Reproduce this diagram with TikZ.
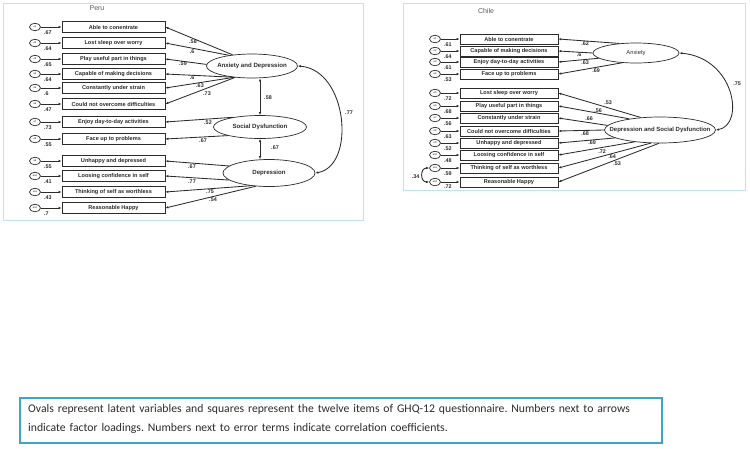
\documentclass[tikz,border=0pt]{standalone}
\usepackage{fontspec}
\setmainfont{Liberation Sans}
\newfontfamily\notefont{Carlito}
\usetikzlibrary{shapes.geometric}
\usetikzlibrary{arrows.meta}

\definecolor{framecyan}{HTML}{BFE4EC}
\definecolor{notecyan}{HTML}{3BA6C8}
\definecolor{inkgray}{HTML}{2B2B2B}

\begin{document}
\begin{tikzpicture}[x=1pt,y=-1pt,
    item/.style={draw=inkgray,line width=0.7pt,minimum height=10.5pt,inner sep=0pt,
        text=inkgray,font=\fontsize{5.6}{6}\selectfont\bfseries},
    err/.style={ellipse,draw=inkgray,line width=0.7pt,minimum width=11pt,minimum height=7.5pt,
        inner sep=0pt,font=\fontsize{2.5}{3}\selectfont},
    latent/.style={ellipse,draw=inkgray,line width=0.7pt,inner xsep=-16pt,inner ysep=0pt,
        text=inkgray,font=\fontsize{6.1}{7}\selectfont\bfseries},
    load/.style={inner sep=0pt,text=inkgray,font=\fontsize{5.4}{6}\selectfont\bfseries},
    title/.style={text=black!65,font=\fontsize{7}{8}\selectfont},
    conn/.style={-{Latex[length=3pt,width=2.4pt]},line width=0.85pt,draw=inkgray},
    twohead/.style={{Latex[length=3pt,width=2.4pt]}-{Latex[length=3pt,width=2.4pt]},
        line width=0.85pt,draw=inkgray}]
    \useasboundingbox (0,0) rectangle (750,448);

    % Peru
    \draw [framecyan,line width=1pt] (3,3) rectangle (363,220);
    \node [title] (perutitle) at (97,8) {Peru};

    \begin{scope}[item/.append style={minimum width=103pt}]
    \node [item] (p1)  at (113.5,27)  {Able to conentrate};
    \node [item] (p2)  at (113.5,43)  {Lost sleep over worry};
    \node [item] (p3)  at (113.5,59)  {Play useful part in things};
    \node [item] (p4)  at (113.5,74)  {Capable of making decisions};
    \node [item] (p5)  at (113.5,88)  {Constantly under strain};
    \node [item] (p6)  at (113.5,104) {Could not overcome difficulties};
    \node [item] (p7)  at (113.5,122) {Enjoy day-to-day activities};
    \node [item] (p8)  at (113.5,139) {Face up to problems};
    \node [item] (p9)  at (113.5,161) {Unhappy and depressed};
    \node [item] (p10) at (113.5,176) {Loosing confidence in self};
    \node [item] (p11) at (113.5,192) {Thinking of self as worthless};
    \node [item] (p12) at (113.5,208) {Reasonable Happy};
    \end{scope}

    % Peru error terms
    \node [err] (pe1)  at (35,27)  {e1};
    \node [err] (pe2)  at (35,43)  {e2};
    \node [err] (pe3)  at (35,59)  {e3};
    \node [err] (pe4)  at (35,74)  {e4};
    \node [err] (pe5)  at (35,88)  {e5};
    \node [err] (pe6)  at (35,104) {e6};
    \node [err] (pe7)  at (35,122) {e7};
    \node [err] (pe8)  at (35,139) {e8};
    \node [err] (pe9)  at (35,161) {e9};
    \node [err] (pe10) at (35,176) {e10};
    \node [err] (pe11) at (35,192) {e11};
    \node [err] (pe12) at (35,208) {e12};
    \foreach \i in {1,...,12}
        \draw [conn] (pe\i) -- (p\i);

    \node [load,anchor=west] (pv1)  at (44,32.5)  {.67};
    \node [load,anchor=west] (pv2)  at (44,48.5)  {.64};
    \node [load,anchor=west] (pv3)  at (44,64.5)  {.65};
    \node [load,anchor=west] (pv4)  at (44,79.5)  {.64};
    \node [load,anchor=west] (pv5)  at (44,93.5)  {.6};
    \node [load,anchor=west] (pv6)  at (44,109.5) {.47};
    \node [load,anchor=west] (pv7)  at (44,127.5) {.73};
    \node [load,anchor=west] (pv8)  at (44,144.5) {.55};
    \node [load,anchor=west] (pv9)  at (44,166.5) {.55};
    \node [load,anchor=west] (pv10) at (44,181.5) {.41};
    \node [load,anchor=west] (pv11) at (44,197.5) {.43};
    \node [load,anchor=west] (pv12) at (44,213.5) {.7};

    % Peru factors
    \node [latent,minimum width=91pt,minimum height=24pt] (pad)  at (252,66)  {Anxiety and Depression};
    \node [latent,minimum width=93pt,minimum height=23pt] (psd)  at (260,127) {Social Dysfunction};
    \node [latent,minimum width=92pt,minimum height=27pt] (pdep) at (269,173) {Depression};

    \draw [conn] (pad.150) -- (p1.east);
    \draw [conn] (pad.155) -- (p2.east);
    \draw [conn] (pad.178) -- (p3.east);
    \draw [conn] (pad.210) -- (p4.east);
    \draw [conn] (pad.212) -- (p5.east);
    \draw [conn] (pad.214) -- (p6.east);
    \draw [conn] (psd.160) -- (p7.east);
    \draw [conn] (psd.195) -- (p8.east);
    \draw [conn] (pdep.170) -- (p9.east);
    \draw [conn] (pdep.190) -- (p10.east);
    \draw [conn] (pdep.215) -- (p11.east);
    \draw [conn] (pdep.225) -- (p12.east);

    \node [load] (pl1)  at (193,42)  {.58};
    \node [load] (pl2)  at (192,52)  {.6};
    \node [load] (pl3)  at (183,63.5) {.59};
    \node [load] (pl4)  at (192,77.5) {.6};
    \node [load] (pl5)  at (200,85.5) {.63};
    \node [load] (pl6)  at (207,93.5) {.73};
    \node [load] (pl7)  at (208,122.5) {.52};
    \node [load] (pl8)  at (203,140.5) {.67};
    \node [load] (pl9)  at (192,167) {.67};
    \node [load] (pl10) at (192,181.5) {.77};
    \node [load] (pl11) at (210,191.5) {.75};
    \node [load] (pl12) at (213,199.5) {.54};

    \draw [twohead] (psd.north) -- (psd.north |- pad.south);
    \draw [twohead] (psd.south) -- (psd.south |- pdep.north);
    \draw [twohead] (pad.east) .. controls (348,70) and (356,166) .. (pdep.east);
    \node [load] (padsd)  at (268,98)  {.58};
    \node [load] (psddep) at (275,148) {.67};
    \node [load] (paddep) at (349,113) {.77};

    % Chile
    \draw [framecyan,line width=1pt] (403,3) rectangle (745,190);
    \node [title] (chiletitle) at (486,11) {Chile};

    \begin{scope}[item/.append style={minimum width=98pt,minimum height=10pt}]
    \node [item] (c1)  at (509,39)  {Able to conentrate};
    \node [item] (c2)  at (509,51)  {Capable of making decisions};
    \node [item] (c3)  at (509,62)  {Enjoy day-to-day activities};
    \node [item] (c4)  at (509,74)  {Face up to problems};
    \node [item] (c5)  at (509,93)  {Lost sleep over worry};
    \node [item] (c6)  at (509,106) {Play useful part in things};
    \node [item] (c7)  at (509,118) {Constantly under strain};
    \node [item] (c8)  at (509,131) {Could not overcome difficulties};
    \node [item] (c9)  at (509,143) {Unhappy and depressed};
    \node [item] (c10) at (509,155) {Loosing confidence in self};
    \node [item] (c11) at (509,168) {Thinking of self as worthless};
    \node [item] (c12) at (509,182) {Reasonable Happy};
    \end{scope}

    % Chile error terms
    \node [err] (ce1)  at (435,39)  {e1};
    \node [err] (ce2)  at (435,51)  {e2};
    \node [err] (ce3)  at (435,62)  {e3};
    \node [err] (ce4)  at (435,74)  {e4};
    \node [err] (ce5)  at (435,93)  {e5};
    \node [err] (ce6)  at (435,106) {e6};
    \node [err] (ce7)  at (435,118) {e7};
    \node [err] (ce8)  at (435,131) {e8};
    \node [err] (ce9)  at (435,143) {e9};
    \node [err] (ce10) at (435,155) {e10};
    \node [err] (ce11) at (435,168) {e11};
    \node [err] (ce12) at (435,182) {e12};
    \foreach \i in {1,...,12}
        \draw [conn] (ce\i) -- (c\i);

    \node [load,anchor=west] (cv1)  at (444,44.5)  {.61};
    \node [load,anchor=west] (cv2)  at (444,56.5)  {.64};
    \node [load,anchor=west] (cv3)  at (444,67.5)  {.61};
    \node [load,anchor=west] (cv4)  at (444,79.5)  {.53};
    \node [load,anchor=west] (cv5)  at (444,98.5)  {.72};
    \node [load,anchor=west] (cv6)  at (444,111.5) {.68};
    \node [load,anchor=west] (cv7)  at (444,123.5) {.56};
    \node [load,anchor=west] (cv8)  at (444,136.5) {.63};
    \node [load,anchor=west] (cv9)  at (444,148.5) {.52};
    \node [load,anchor=west] (cv10) at (444,160.5) {.48};
    \node [load,anchor=west] (cv11) at (444,173.5) {.59};
    \node [load,anchor=west] (cv12) at (444,187)   {.72};

    \draw [twohead] (ce11.west) .. controls (420,168) and (420,182) .. (ce12.west);
    \node [load] (ccorr) at (415.5,177) {.34};

    % Chile factors
    \node [latent,minimum width=86pt,minimum height=20pt,font=\fontsize{5.8}{7}\selectfont] (can) at (636,53) {Anxiety};
    \node [latent,minimum width=111pt,minimum height=26pt,font=\fontsize{6}{7}\selectfont\bfseries] (cds) at (660,130) {Depression and Social Dysfunction};

    \draw [conn] (can.150) -- (c1.east);
    \draw [conn] (can.180) -- (c2.east);
    \draw [conn] (can.188) -- (c3.east);
    \draw [conn] (can.215) -- (c4.east);
    \draw [conn] (cds.147) -- (c5.east);
    \draw [conn] (cds.160) -- (c6.east);
    \draw [conn] (cds.175) -- (c7.east);
    \draw [conn] (cds.180) -- (c8.east);
    \draw [conn] (cds.190) -- (c9.east);
    \draw [conn] (cds.205) -- (c10.east);
    \draw [conn] (cds.235) -- (c11.east);
    \draw [conn] (cds.265) -- (c12.east);

    \node [load] (cl1)  at (585,44)  {.62};
    \node [load] (cl2)  at (579,54.5) {.6};
    \node [load] (cl3)  at (585,63)  {.63};
    \node [load] (cl4)  at (596,70.5) {.69};
    \node [load] (cl5)  at (608,103) {.53};
    \node [load] (cl6)  at (598,111) {.56};
    \node [load] (cl7)  at (589,119) {.66};
    \node [load] (cl8)  at (585,134) {.68};
    \node [load] (cl9)  at (592,143) {.69};
    \node [load] (cl10) at (602,152) {.72};
    \node [load] (cl11) at (612,157) {.64};
    \node [load] (cl12) at (617,164) {.53};

    \draw [twohead] (can.east) .. controls (735,58) and (745,125) .. (cds.east);
    \node [load] (cands) at (737,84) {.75};

    % Note
    \draw [notecyan,line width=1.8pt] (20,398) rectangle (662,443);
    \node [anchor=north west,text width=635pt,align=left,inner sep=0pt,text=inkgray,
        font=\notefont\fontsize{11.7}{19}\selectfont\frenchspacing] (note) at (28,404)
        {Ovals represent latent variables and squares represent the twelve items of GHQ-12 questionnaire. Numbers next to arrows\\
         indicate factor loadings. Numbers next to error terms indicate correlation coefficients.};
\end{tikzpicture}
\end{document}
